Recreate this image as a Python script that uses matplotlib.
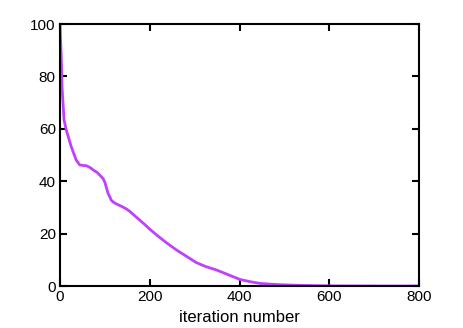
import matplotlib
matplotlib.use("Agg")
import matplotlib.pyplot as plt
import numpy as np

iterations = [0, 3, 4.5, 9, 14, 25, 36, 44, 52, 59, 67, 74, 83, 90, 96, 100, 104, 107, 111, 114, 119, 126, 136, 148, 156, 170, 186, 200, 215, 238, 260, 283, 304, 325, 349, 375, 401, 425, 445, 470, 490, 534, 600, 700, 800]
values = [100, 86.3, 76, 63.4, 59.5, 53.2, 48.1, 46.2, 46.0, 45.9, 45.2, 44.3, 43.3, 42.1, 41, 39.6, 37.2, 35.4, 34, 32.8, 32.0, 31.3, 30.5, 29.4, 28.4, 26.3, 23.9, 21.7, 19.5, 16.4, 13.7, 11.2, 8.9, 7.4, 6.1, 4.3, 2.5, 1.6, 1.0, 0.7, 0.5, 0.25, 0.05, 0.0, 0.0]
xlabel = "iteration number"

plt.rcParams['font.family'] = ['Liberation Sans', 'DejaVu Sans']
fig = plt.figure(figsize=(4.63, 3.28), dpi=100)
ax = fig.add_axes([60/463, 1-286/328, (419-60)/463, (286-24)/328])
ax.plot(iterations, values, color='#bf40ff', lw=2, solid_joinstyle='round')
ax.set_xlim(0, 800)
ax.set_ylim(0, 100)
ax.set_xticks([0, 200, 400, 600, 800])
ax.set_yticks([0, 20, 40, 60, 80, 100])
ax.tick_params(direction='in', length=5, width=1.5, top=True, right=True, labelsize=11, pad=3, colors='black')
for s in ax.spines.values():
    s.set_linewidth(1.5)
ax.set_xlabel(xlabel, fontsize=12, labelpad=4)
fig.savefig("out.png", dpi=100)
